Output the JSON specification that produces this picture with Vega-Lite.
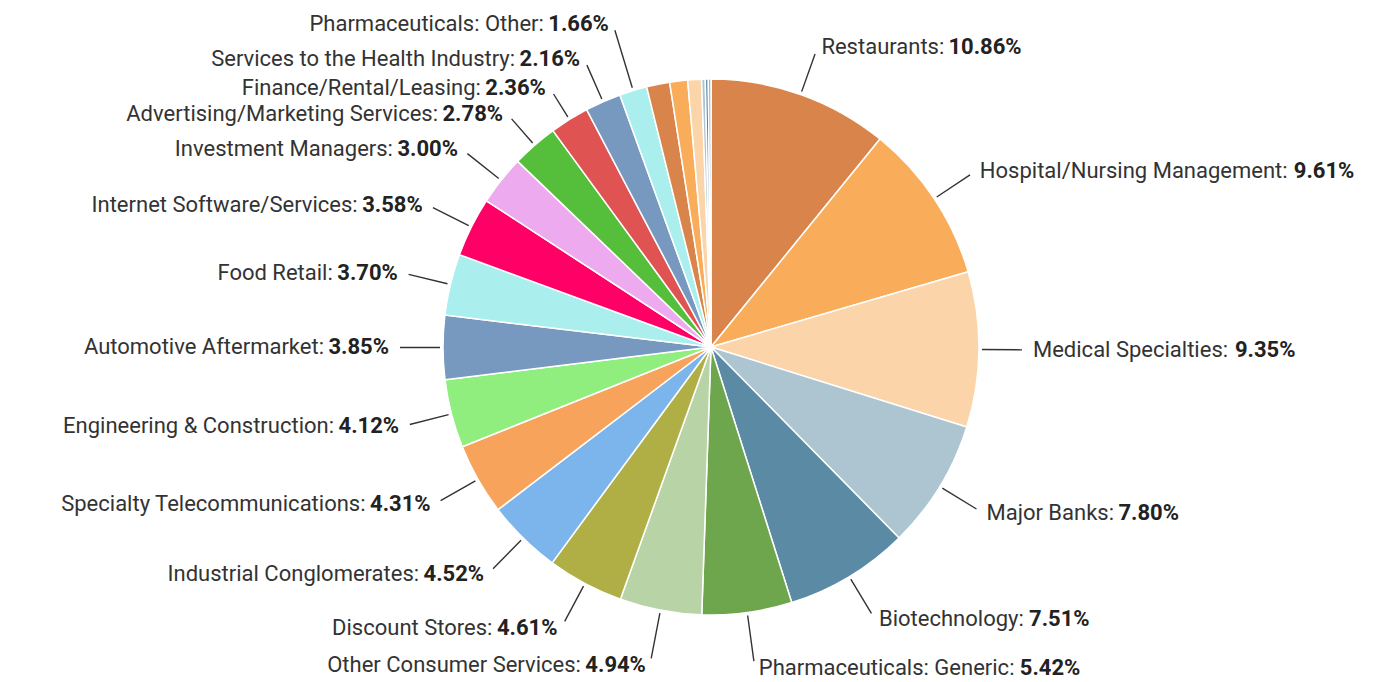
{
  "$schema": "https://vega.github.io/schema/vega-lite/v6.json",
  "width": 1362,
  "height": 670,
  "autosize": {"type": "none"},
  "padding": {"left": 30, "top": 12, "right": 0, "bottom": 0},
  "background": "white",
  "config": {"view": {"stroke": null}, "text": {"font": "Roboto", "fontSize": 22, "color": "#333333"}},
  "data": {"values": [
    {"idx": 1, "category": "Restaurants", "name": "Restaurants:", "pct": "10.86%", "value": 10.86},
    {"idx": 2, "category": "Hospital/Nursing Management", "name": "Hospital/Nursing Management:", "pct": "9.61%", "value": 9.61},
    {"idx": 3, "category": "Medical Specialties", "name": "Medical Specialties:", "pct": "9.35%", "value": 9.35},
    {"idx": 4, "category": "Major Banks", "name": "Major Banks:", "pct": "7.80%", "value": 7.80},
    {"idx": 5, "category": "Biotechnology", "name": "Biotechnology:", "pct": "7.51%", "value": 7.51},
    {"idx": 6, "category": "Pharmaceuticals: Generic", "name": "Pharmaceuticals: Generic:", "pct": "5.42%", "value": 5.42},
    {"idx": 7, "category": "Other Consumer Services", "name": "Other Consumer Services:", "pct": "4.94%", "value": 4.94},
    {"idx": 8, "category": "Discount Stores", "name": "Discount Stores:", "pct": "4.61%", "value": 4.61},
    {"idx": 9, "category": "Industrial Conglomerates", "name": "Industrial Conglomerates:", "pct": "4.52%", "value": 4.52},
    {"idx": 10, "category": "Specialty Telecommunications", "name": "Specialty Telecommunications:", "pct": "4.31%", "value": 4.31},
    {"idx": 11, "category": "Engineering & Construction", "name": "Engineering & Construction:", "pct": "4.12%", "value": 4.12},
    {"idx": 12, "category": "Automotive Aftermarket", "name": "Automotive Aftermarket:", "pct": "3.85%", "value": 3.85},
    {"idx": 13, "category": "Food Retail", "name": "Food Retail:", "pct": "3.70%", "value": 3.70},
    {"idx": 14, "category": "Internet Software/Services", "name": "Internet Software/Services:", "pct": "3.58%", "value": 3.58},
    {"idx": 15, "category": "Investment Managers", "name": "Investment Managers:", "pct": "3.00%", "value": 3.00},
    {"idx": 16, "category": "Advertising/Marketing Services", "name": "Advertising/Marketing Services:", "pct": "2.78%", "value": 2.78},
    {"idx": 17, "category": "Finance/Rental/Leasing", "name": "Finance/Rental/Leasing:", "pct": "2.36%", "value": 2.36},
    {"idx": 18, "category": "Services to the Health Industry", "name": "Services to the Health Industry:", "pct": "2.16%", "value": 2.16},
    {"idx": 19, "category": "Pharmaceuticals: Other", "name": "Pharmaceuticals: Other:", "pct": "1.66%", "value": 1.66},
    {"idx": 20, "category": "Unlabeled 1", "name": "", "pct": "", "value": 1.39},
    {"idx": 21, "category": "Unlabeled 2", "name": "", "pct": "", "value": 1.08},
    {"idx": 22, "category": "Unlabeled 3", "name": "", "pct": "", "value": 0.83},
    {"idx": 23, "category": "Unlabeled 4", "name": "", "pct": "", "value": 0.22},
    {"idx": 24, "category": "Unlabeled 5", "name": "", "pct": "", "value": 0.18},
    {"idx": 25, "category": "Unlabeled 6", "name": "", "pct": "", "value": 0.16}
  ]},
  "encoding": {
    "theta": {"field": "value", "type": "quantitative", "stack": true},
    "order": {"field": "idx", "type": "quantitative"},
    "detail": {"field": "category", "type": "nominal"}
  },
  "layer": [
    {
      "mark": {"type": "arc", "radius": 268, "stroke": "#ffffff", "strokeWidth": 1.5, "strokeJoin": "round"},
      "encoding": {
        "color": {
          "field": "category", "type": "nominal", "legend": null,
          "scale": {
            "domain": ["Restaurants", "Hospital/Nursing Management", "Medical Specialties", "Major Banks", "Biotechnology", "Pharmaceuticals: Generic", "Other Consumer Services", "Discount Stores", "Industrial Conglomerates", "Specialty Telecommunications", "Engineering & Construction", "Automotive Aftermarket", "Food Retail", "Internet Software/Services", "Investment Managers", "Advertising/Marketing Services", "Finance/Rental/Leasing", "Services to the Health Industry", "Pharmaceuticals: Other", "Unlabeled 1", "Unlabeled 2", "Unlabeled 3", "Unlabeled 4", "Unlabeled 5", "Unlabeled 6"],
            "range": ["#d9844a", "#f9ad5a", "#fbd5a9", "#adc5d1", "#5b8aa5", "#6ea64d", "#b8d4a6", "#afaf46", "#7cb5ec", "#f7a35c", "#90ee7e", "#7798bf", "#aaeeee", "#ff0066", "#eeaaee", "#55bf3b", "#df5353", "#7798bf", "#aaeeee", "#d9844a", "#f9ad5a", "#fbd5a9", "#adc5d1", "#5b8aa5", "#8fb0c4"]
          }
        }
      }
    },
    {
      "mark": {"type": "arc", "radius": 311, "radius2": 271, "padAngle": 3.1416, "filled": false, "stroke": "#333333", "color": "#333333", "strokeWidth": 1.4},
      "encoding": {"strokeOpacity": {"condition": {"test": "datum.idx <= 5 || (datum.idx >= 8 && datum.idx <= 15)", "value": 1}, "value": 0}}
    },
    {
      "mark": {"type": "arc", "radius": 317, "radius2": 271, "padAngle": 3.1416, "filled": false, "stroke": "#333333", "color": "#333333", "strokeWidth": 1.4},
      "encoding": {"strokeOpacity": {"condition": {"test": "datum.idx === 6 || datum.idx === 7", "value": 1}, "value": 0}}
    },
    {
      "mark": {"type": "arc", "radius": 303, "radius2": 271, "padAngle": 3.1416, "filled": false, "stroke": "#333333", "color": "#333333", "strokeWidth": 1.4},
      "encoding": {"strokeOpacity": {"condition": {"test": "datum.idx === 16", "value": 1}, "value": 0}}
    },
    {
      "mark": {"type": "arc", "radius": 298, "radius2": 271, "padAngle": 3.1416, "filled": false, "stroke": "#333333", "color": "#333333", "strokeWidth": 1.4},
      "encoding": {"strokeOpacity": {"condition": {"test": "datum.idx === 17", "value": 1}, "value": 0}}
    },
    {
      "mark": {"type": "arc", "radius": 308, "radius2": 271, "padAngle": 3.1416, "filled": false, "stroke": "#333333", "color": "#333333", "strokeWidth": 1.4},
      "encoding": {"strokeOpacity": {"condition": {"test": "datum.idx === 18", "value": 1}, "value": 0}}
    },
    {
      "mark": {"type": "arc", "radius": 331, "radius2": 271, "padAngle": 3.1416, "filled": false, "stroke": "#333333", "color": "#333333", "strokeWidth": 1.4},
      "encoding": {"strokeOpacity": {"condition": {"test": "datum.idx === 19", "value": 1}, "value": 0}}
    },
    {
      "mark": {"type": "text", "radius": 318, "align": "left", "baseline": "middle", "dx": 4},
      "encoding": {"text": {"condition": {"test": "datum.idx <= 5", "field": "name", "type": "nominal"}, "value": ""}}
    },
    {
      "mark": {"type": "text", "radius": 324, "align": "left", "baseline": "middle", "dx": 4},
      "encoding": {"text": {"condition": {"test": "datum.idx === 6", "field": "name", "type": "nominal"}, "value": ""}}
    },
    {
      "mark": {"type": "text", "radius": 318, "align": "left", "baseline": "middle", "dx": 131, "fontWeight": "bold", "color": "#222222"},
      "encoding": {"text": {"condition": {"test": "datum.idx === 1", "field": "pct", "type": "nominal"}, "value": ""}}
    },
    {
      "mark": {"type": "text", "radius": 318, "align": "left", "baseline": "middle", "dx": 318, "fontWeight": "bold", "color": "#222222"},
      "encoding": {"text": {"condition": {"test": "datum.idx === 2", "field": "pct", "type": "nominal"}, "value": ""}}
    },
    {
      "mark": {"type": "text", "radius": 318, "align": "left", "baseline": "middle", "dx": 206, "fontWeight": "bold", "color": "#222222"},
      "encoding": {"text": {"condition": {"test": "datum.idx === 3", "field": "pct", "type": "nominal"}, "value": ""}}
    },
    {
      "mark": {"type": "text", "radius": 318, "align": "left", "baseline": "middle", "dx": 136, "fontWeight": "bold", "color": "#222222"},
      "encoding": {"text": {"condition": {"test": "datum.idx === 4", "field": "pct", "type": "nominal"}, "value": ""}}
    },
    {
      "mark": {"type": "text", "radius": 318, "align": "left", "baseline": "middle", "dx": 154, "fontWeight": "bold", "color": "#222222"},
      "encoding": {"text": {"condition": {"test": "datum.idx === 5", "field": "pct", "type": "nominal"}, "value": ""}}
    },
    {
      "mark": {"type": "text", "radius": 324, "align": "left", "baseline": "middle", "dx": 265, "fontWeight": "bold", "color": "#222222"},
      "encoding": {"text": {"condition": {"test": "datum.idx === 6", "field": "pct", "type": "nominal"}, "value": ""}}
    },
    {
      "mark": {"type": "text", "radius": 318, "align": "right", "baseline": "middle", "dx": -69},
      "encoding": {"text": {"condition": {"test": "datum.idx >= 8 && datum.idx <= 15", "field": "name", "type": "nominal"}, "value": ""}}
    },
    {
      "mark": {"type": "text", "radius": 318, "align": "right", "baseline": "middle", "dx": -4, "fontWeight": "bold", "color": "#222222"},
      "encoding": {"text": {"condition": {"test": "datum.idx >= 8 && datum.idx <= 15", "field": "pct", "type": "nominal"}, "value": ""}}
    },
    {
      "mark": {"type": "text", "radius": 324, "align": "right", "baseline": "middle", "dx": -69},
      "encoding": {"text": {"condition": {"test": "datum.idx === 7", "field": "name", "type": "nominal"}, "value": ""}}
    },
    {
      "mark": {"type": "text", "radius": 324, "align": "right", "baseline": "middle", "dx": -4, "fontWeight": "bold", "color": "#222222"},
      "encoding": {"text": {"condition": {"test": "datum.idx === 7", "field": "pct", "type": "nominal"}, "value": ""}}
    },
    {
      "mark": {"type": "text", "radius": 310, "align": "right", "baseline": "middle", "dx": -69},
      "encoding": {"text": {"condition": {"test": "datum.idx === 16", "field": "name", "type": "nominal"}, "value": ""}}
    },
    {
      "mark": {"type": "text", "radius": 310, "align": "right", "baseline": "middle", "dx": -4, "fontWeight": "bold", "color": "#222222"},
      "encoding": {"text": {"condition": {"test": "datum.idx === 16", "field": "pct", "type": "nominal"}, "value": ""}}
    },
    {
      "mark": {"type": "text", "radius": 305, "align": "right", "baseline": "middle", "dx": -69},
      "encoding": {"text": {"condition": {"test": "datum.idx === 17", "field": "name", "type": "nominal"}, "value": ""}}
    },
    {
      "mark": {"type": "text", "radius": 305, "align": "right", "baseline": "middle", "dx": -4, "fontWeight": "bold", "color": "#222222"},
      "encoding": {"text": {"condition": {"test": "datum.idx === 17", "field": "pct", "type": "nominal"}, "value": ""}}
    },
    {
      "mark": {"type": "text", "radius": 315, "align": "right", "baseline": "middle", "dx": -69},
      "encoding": {"text": {"condition": {"test": "datum.idx === 18", "field": "name", "type": "nominal"}, "value": ""}}
    },
    {
      "mark": {"type": "text", "radius": 315, "align": "right", "baseline": "middle", "dx": -4, "fontWeight": "bold", "color": "#222222"},
      "encoding": {"text": {"condition": {"test": "datum.idx === 18", "field": "pct", "type": "nominal"}, "value": ""}}
    },
    {
      "mark": {"type": "text", "radius": 338, "align": "right", "baseline": "middle", "dx": -69},
      "encoding": {"text": {"condition": {"test": "datum.idx === 19", "field": "name", "type": "nominal"}, "value": ""}}
    },
    {
      "mark": {"type": "text", "radius": 338, "align": "right", "baseline": "middle", "dx": -4, "fontWeight": "bold", "color": "#222222"},
      "encoding": {"text": {"condition": {"test": "datum.idx === 19", "field": "pct", "type": "nominal"}, "value": ""}}
    }
  ]
}
